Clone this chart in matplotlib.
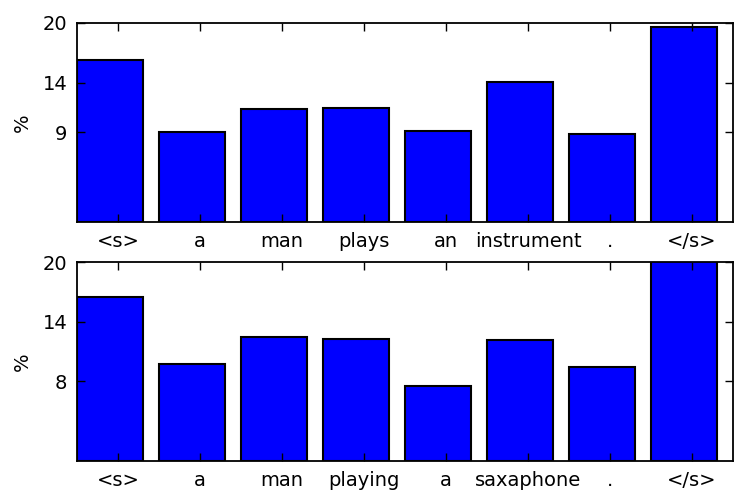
import matplotlib
matplotlib.use("Agg")
import matplotlib.pyplot as plt
import numpy as np

tokens_top = ["<s>", "a", "man", "plays", "an", "instrument", ".", "</s>"]
values_top = [16.3, 9.05, 11.35, 11.5, 9.15, 14.1, 8.85, 19.6]
yticks_top = [9, 14, 20]

tokens_bot = ["<s>", "a", "man", "playing", "a", "saxaphone", ".", "</s>"]
values_bot = [16.45, 9.75, 12.45, 12.25, 7.55, 12.15, 9.4, 20.2]
yticks_bot = [8, 14, 20]

fig = plt.figure(figsize=(7.47, 5.03), dpi=100)
W, H = 747, 503
ax1 = fig.add_axes([77 / W, 1 - 222 / H, 656 / W, 199 / H])
ax2 = fig.add_axes([77 / W, 1 - 461 / H, 656 / W, 199 / H])

for ax, toks, vals, yt in [(ax1, tokens_top, values_top, yticks_top),
                           (ax2, tokens_bot, values_bot, yticks_bot)]:
    x = np.arange(len(toks))
    ax.bar(x, vals, width=0.8, align="edge", color="#0000ff",
           edgecolor="black", linewidth=1.5)
    ax.set_xlim(0, len(toks))
    ax.set_ylim(0, 20)
    ax.set_xticks(x + 0.5)
    ax.set_xticklabels(toks, fontsize=14)
    ax.set_yticks(yt)
    ax.set_yticklabels([str(v) for v in yt], fontsize=14)
    ax.set_ylabel("%", fontsize=14, labelpad=8)
    ax.tick_params(direction="in", length=6, width=1, top=True, right=True,
                   pad=7, colors="black")
    for s in ax.spines.values():
        s.set_linewidth(1.3)

fig.savefig("out.png", dpi=100)
